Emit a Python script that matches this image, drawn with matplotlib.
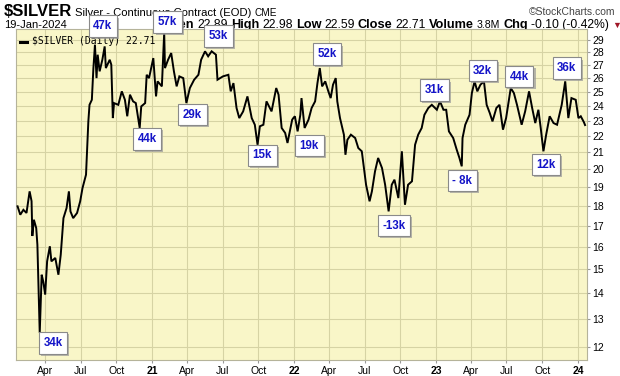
import pandas as pd
import matplotlib
matplotlib.use("Agg")
import matplotlib.pyplot as plt
import matplotlib.patheffects as pe
from matplotlib.lines import Line2D
from matplotlib.ticker import FormatStrFormatter, NullLocator

plt.rcParams['font.family'] = ['Liberation Sans', 'DejaVu Sans']

dates = [
    "2020-01-21", "2020-01-28", "2020-02-05", "2020-02-13", "2020-02-21", "2020-02-26",
    "2020-02-28", "2020-03-03", "2020-03-09", "2020-03-12", "2020-03-16", "2020-03-18",
    "2020-03-23", "2020-03-27", "2020-04-01", "2020-04-06", "2020-04-13", "2020-04-17",
    "2020-04-27", "2020-05-05", "2020-05-11", "2020-05-18", "2020-05-26", "2020-06-01",
    "2020-06-05", "2020-06-12", "2020-06-22", "2020-06-30", "2020-07-06", "2020-07-15",
    "2020-07-21", "2020-07-24", "2020-07-30", "2020-08-03", "2020-08-07", "2020-08-11",
    "2020-08-14", "2020-08-19", "2020-08-26", "2020-09-01", "2020-09-04", "2020-09-14",
    "2020-09-18", "2020-09-22", "2020-09-25", "2020-10-06", "2020-10-15", "2020-10-23",
    "2020-10-29", "2020-11-05", "2020-11-13", "2020-11-20", "2020-11-30", "2020-12-04",
    "2020-12-14", "2020-12-18", "2020-12-24", "2021-01-04", "2021-01-11", "2021-01-15",
    "2021-01-26", "2021-02-01", "2021-02-03", "2021-02-11", "2021-02-19", "2021-02-26",
    "2021-03-05", "2021-03-12", "2021-03-22", "2021-03-30", "2021-04-08", "2021-04-19",
    "2021-04-30", "2021-05-07", "2021-05-17", "2021-05-25", "2021-06-03", "2021-06-14",
    "2021-06-18", "2021-07-02", "2021-07-16", "2021-07-22", "2021-07-29", "2021-08-06",
    "2021-08-13", "2021-08-23", "2021-09-03", "2021-09-14", "2021-09-22", "2021-09-29",
    "2021-10-05", "2021-10-14", "2021-10-22", "2021-11-04", "2021-11-16", "2021-11-22",
    "2021-11-30", "2021-12-09", "2021-12-15", "2021-12-27", "2021-12-30", "2022-01-03",
    "2022-01-10", "2022-01-17", "2022-01-20", "2022-01-28", "2022-02-07", "2022-02-15",
    "2022-02-24", "2022-03-02", "2022-03-08", "2022-03-14", "2022-03-22", "2022-03-30",
    "2022-04-05", "2022-04-11", "2022-04-18", "2022-04-22", "2022-04-29", "2022-05-09",
    "2022-05-13", "2022-05-18", "2022-05-27", "2022-06-07", "2022-06-15", "2022-06-24",
    "2022-07-05", "2022-07-14", "2022-07-20", "2022-07-28", "2022-08-05", "2022-08-15",
    "2022-08-23", "2022-09-01", "2022-09-09", "2022-09-16", "2022-09-26", "2022-10-05",
    "2022-10-13", "2022-10-21", "2022-10-31", "2022-11-08", "2022-11-16", "2022-11-25",
    "2022-12-02", "2022-12-12", "2022-12-21", "2023-01-03", "2023-01-11", "2023-01-20",
    "2023-01-27", "2023-02-03", "2023-02-14", "2023-02-23", "2023-03-02", "2023-03-08",
    "2023-03-10", "2023-03-17", "2023-03-28", "2023-04-03", "2023-04-10", "2023-04-17",
    "2023-04-25", "2023-05-04", "2023-05-11", "2023-05-19", "2023-05-26", "2023-06-05",
    "2023-06-13", "2023-06-22", "2023-06-30", "2023-07-12", "2023-07-20", "2023-07-28",
    "2023-08-09", "2023-08-18", "2023-08-28", "2023-09-05", "2023-09-13", "2023-09-21",
    "2023-09-27", "2023-10-04", "2023-10-11", "2023-10-20", "2023-10-30", "2023-11-08",
    "2023-11-14", "2023-11-20", "2023-11-29", "2023-12-07", "2023-12-15", "2023-12-26",
    "2024-01-02", "2024-01-08", "2024-01-16", "2024-01-19",
]
closes = [
    17.98, 17.55, 17.80, 17.64, 18.77, 18.25,
    16.51, 17.30, 16.89, 16.10, 13.70, 12.50,
    14.77, 14.49, 13.95, 15.35, 16.03, 15.35,
    15.50, 14.77, 15.64, 17.38, 17.89, 18.77,
    17.72, 17.38, 17.64, 18.24, 18.95, 19.69,
    22.95, 24.07, 24.42, 26.75, 28.61, 25.99,
    27.80, 26.50, 27.40, 28.47, 26.75, 27.40,
    27.01, 23.17, 24.19, 24.07, 25.02, 24.42,
    23.29, 24.78, 24.31, 24.19, 22.52, 23.96,
    24.19, 26.24, 25.99, 27.53, 24.66, 25.75,
    25.38, 29.60, 26.75, 27.40, 27.93, 26.50,
    25.38, 26.12, 25.99, 24.19, 25.26, 25.87,
    26.24, 27.40, 28.07, 27.67, 28.07, 27.80,
    25.87, 26.12, 26.24, 25.02, 25.62, 23.85,
    23.17, 23.62, 24.66, 23.17, 22.73, 21.46,
    22.63, 22.73, 24.31, 23.62, 25.26, 24.78,
    22.52, 22.20, 21.57, 23.06, 23.17, 23.29,
    22.30, 23.39, 24.54, 22.52, 23.06, 23.85,
    24.31, 25.62, 26.75, 25.38, 25.75, 25.02,
    24.54, 25.50, 25.99, 24.31, 23.17, 22.09,
    20.85, 21.77, 22.09, 21.88, 21.26, 21.06,
    19.13, 18.24, 18.77, 19.88, 20.66, 20.07,
    19.13, 17.72, 19.13, 19.41, 18.41, 21.06,
    18.06, 19.13, 19.32, 21.46, 22.09, 22.52,
    23.39, 23.85, 24.07, 23.73, 24.31, 23.73,
    23.73, 22.30, 21.88, 21.16, 20.66, 20.17,
    21.88, 22.73, 23.39, 24.90, 25.75, 25.02,
    25.50, 25.75, 24.07, 23.51, 22.95, 23.85,
    24.07, 22.41, 23.17, 25.26, 24.90, 24.07,
    22.73, 23.62, 25.02, 23.85, 22.84, 23.73,
    22.52, 21.06, 22.09, 23.29, 22.84, 22.73,
    23.39, 24.07, 25.75, 23.17, 24.54, 24.42,
    23.17, 23.29, 22.90, 22.71,
]

# annotation boxes: text and where the box sits (date, price)
note_text = ["34k", "47k", "57k", "44k", "29k", "53k", "15k", "19k", "52k",
             "-13k", "31k", "- 8k", "32k", "44k", "12k", "36k"]
note_date = ["2020-04-21", "2020-08-27", "2021-02-10", "2020-12-19", "2021-04-15",
             "2021-06-21", "2021-10-11", "2022-02-09", "2022-03-26", "2022-09-15",
             "2022-12-28", "2023-03-09", "2023-05-01", "2023-08-03", "2023-10-11",
             "2023-12-03"]
note_price = [12.14, 30.18, 30.54, 21.82, 23.40, 29.33, 20.81, 21.41, 27.85,
              17.01, 25.11, 19.36, 26.56, 26.11, 20.27, 26.75]

price_ticks = list(range(12, 30))
quarter_ticks = pd.date_range("2020-04-01", "2024-01-01", freq="QS")

W, H = 620, 376
fig = plt.figure(figsize=(W / 100, H / 100), dpi=100)
fig.patch.set_facecolor("white")
ax = fig.add_axes([16 / W, 1 - 360 / H, (587 - 16) / W, (360 - 29) / H])
ax.set_facecolor("#f9f6c8")

x = pd.to_datetime(dates)
ax.plot(x, closes, color="black", lw=1.4, zorder=3, solid_joinstyle="miter")

ax.set_yscale("log")
ax.set_ylim(11.56, 29.93)
ax.set_xlim(pd.Timestamp("2020-01-17"), pd.Timestamp("2024-01-24"))

ax.yaxis.tick_right()
ax.set_yticks(price_ticks)
ax.yaxis.set_major_formatter(FormatStrFormatter("%d"))
ax.yaxis.set_minor_locator(NullLocator())
ax.set_xticks(quarter_ticks)
ax.set_xticklabels([d.strftime("%y") if d.month == 1 else d.strftime("%b")
                    for d in quarter_ticks])
for lab, d in zip(ax.get_xticklabels(), quarter_ticks):
    if d.month == 1:
        lab.set_fontweight("bold")
        lab.set_fontsize(8.3)
ax.xaxis.set_minor_locator(NullLocator())
ax.tick_params(axis="both", labelsize=7.5, length=2, color="#999999", pad=2)
ax.grid(True, color="#d6d3a4", lw=0.8)
ax.set_axisbelow(True)
for s in ax.spines.values():
    s.set_color("#b5b39a")
    s.set_linewidth(0.8)

# legend line inside the plot
ax.text(0.028, 0.978, "$SILVER (Daily) 22.71", transform=ax.transAxes,
        family="DejaVu Sans Mono", fontsize=7, va="top", ha="left", zorder=4)
ax.add_line(Line2D([0.007, 0.019], [0.962, 0.962], transform=ax.transAxes,
                   color="black", lw=2.2, zorder=4))

for t, d, p in zip(note_text, note_date, note_price):
    tx = ax.text(pd.Timestamp(d), p, t, ha="center", va="center", fontsize=8.3,
                 fontweight="bold", color="#1414c8", zorder=6, clip_on=False,
                 bbox=dict(boxstyle="square,pad=0.4", fc="white", ec="#8a8a8a", lw=0.8))
    tx.get_bbox_patch().set_path_effects(
        [pe.withSimplePatchShadow(offset=(1.5, -1.5), shadow_rgbFace="#9a9a9a", alpha=0.7)])

# header rows
renderer = fig.canvas.get_renderer()


def row(x0, base, parts, gap=3):
    xp = x0
    for s, size, weight, color in parts:
        t = fig.text(xp / W, 1 - base / H, s, fontsize=size, fontweight=weight,
                     color=color, va="baseline", ha="left", zorder=-1)
        xp += t.get_window_extent(renderer).width + gap
    return xp


row(4, 16, [("$SILVER", 12, "bold", "black"),
            ("Silver - Continuous Contract (EOD)", 8.1, "normal", "black"),
            ("CME", 7.2, "normal", "black")])
fig.text(615 / W, 1 - 15 / H, "\u00a9StockCharts.com", fontsize=7.5, color="#444444",
         ha="right", va="baseline", zorder=-1)
row(4, 28, [("19-Jan-2024", 8, "normal", "black")])
row(162, 28, [("Open", 9.2, "bold", "black"), ("22.89", 8.7, "normal", "black"),
              ("High", 9.2, "bold", "black"), ("22.98", 8.7, "normal", "black"),
              ("Low", 9.2, "bold", "black"), ("22.59", 8.7, "normal", "black"),
              ("Close", 9.2, "bold", "black"), ("22.71", 8.7, "normal", "black"),
              ("Volume", 9.2, "bold", "black"), ("3.8M", 7.6, "normal", "black"),
              ("Chg", 9.2, "bold", "black"), ("-0.10 (-0.42%)", 8.7, "normal", "black"),
              ("\u25bc", 6.5, "normal", "#a01828")])

fig.savefig("out.png", dpi=100)
